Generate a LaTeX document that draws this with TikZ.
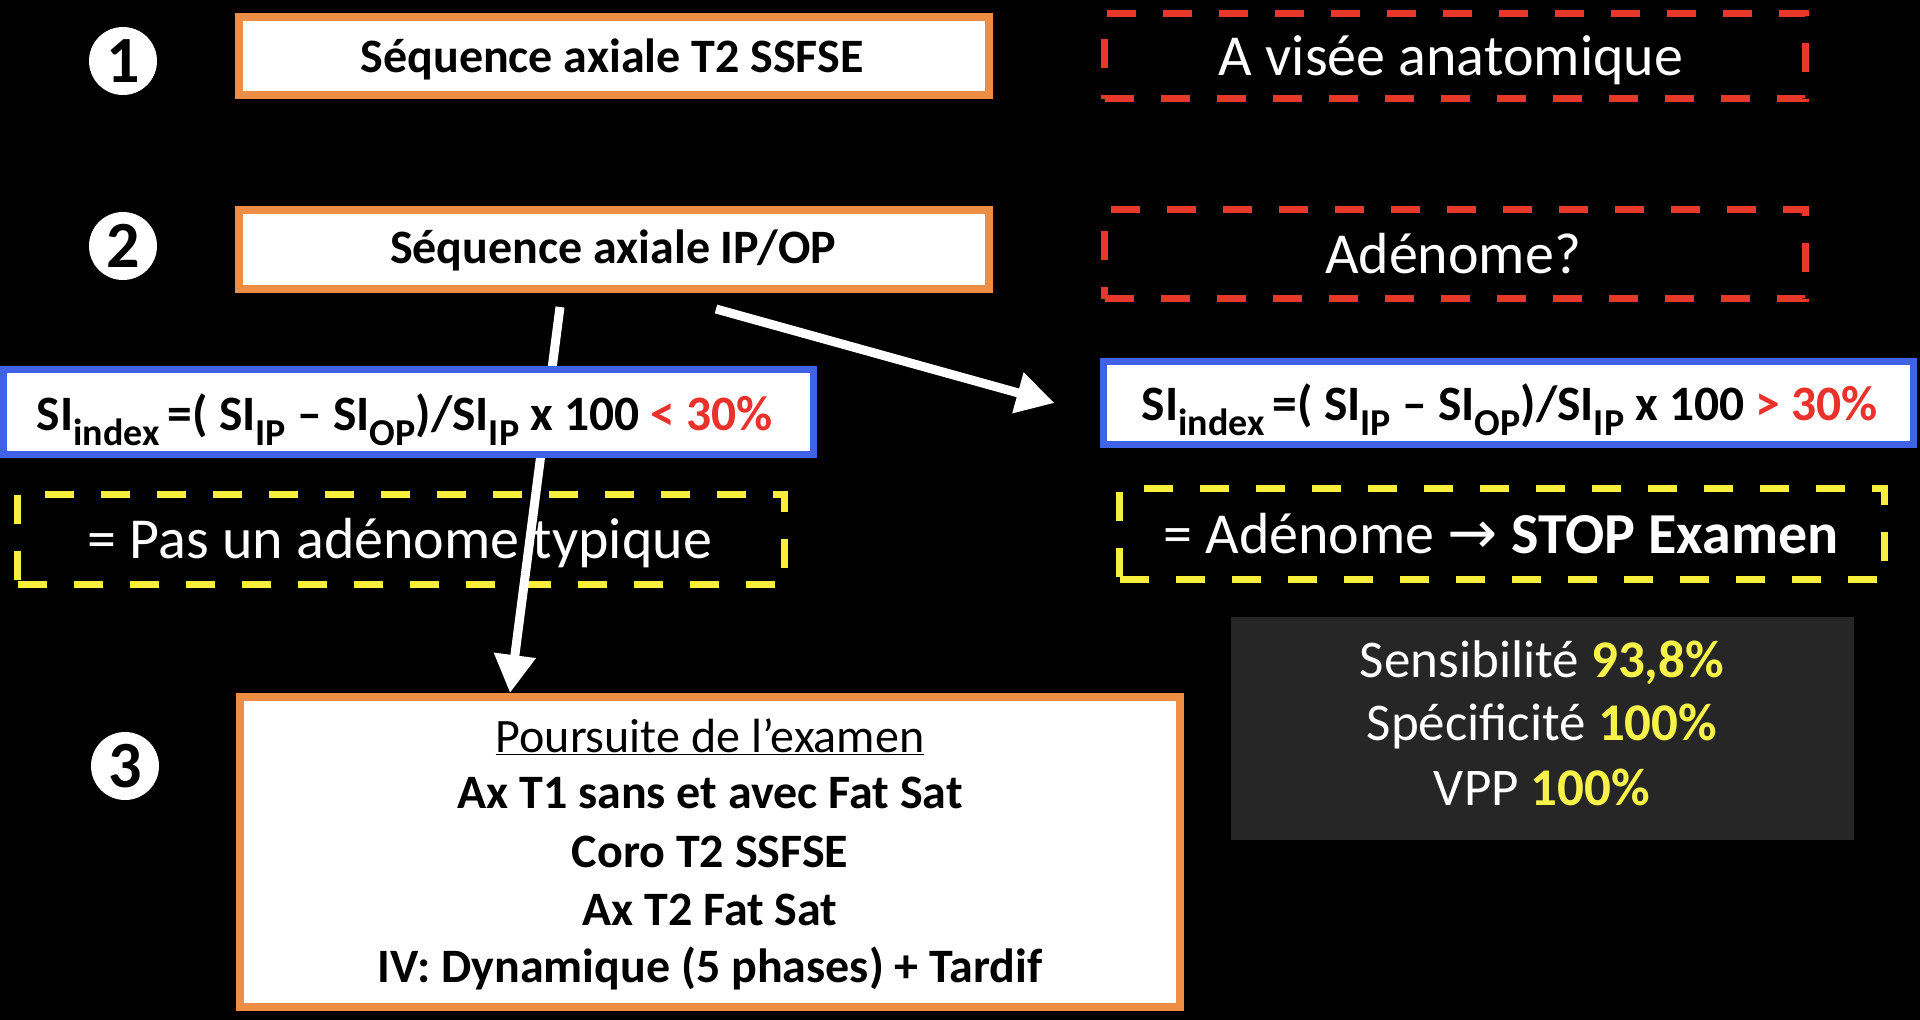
\documentclass[tikz,border=0pt]{standalone}
\usepackage{fontspec}
\setmainfont{Carlito}
\newfontfamily\symfont{DejaVu Sans}
\usetikzlibrary{arrows.meta,calc}

\definecolor{boxorange}{HTML}{F08D45}
\definecolor{boxblue}{HTML}{3F62E6}
\definecolor{dashred}{HTML}{E8382A}
\definecolor{dashyellow}{HTML}{F7EF3C}
\definecolor{redtxt}{HTML}{E8322B}
\definecolor{yellowtxt}{HTML}{F6F24A}
\definecolor{graybg}{HTML}{262626}

% font size in px-like points
\newcommand{\fs}[1]{\fontsize{#1}{#1}\selectfont}
% lowered subscript used in the signal-index formula
\newcommand{\lowsub}[1]{\raisebox{-15pt}{\fs{38}#1}}
\newcommand{\siformula}[1]{\fs{49.5}\bfseries SI\lowsub{index}\,=( SI\lowsub{IP} -- SI\lowsub{OP})/SI\lowsub{IP} x 100 \textcolor{redtxt}{#1~30\%}}

\begin{document}
\begin{tikzpicture}[x=1pt,y=-1pt,
  orangebox/.style={draw=boxorange,line width=8pt,fill=white,inner sep=0pt},
  bluebox/.style={draw=boxblue,line width=7pt,fill=white,inner sep=0pt},
  reddash/.style={draw=dashred,line width=7pt,dash pattern=on 29pt off 27pt,inner sep=0pt},
  yellowdash/.style={draw=dashyellow,line width=7pt,dash pattern=on 29pt off 27pt,inner sep=0pt},
  numdisc/.style={circle,fill=white,minimum size=68pt,inner sep=0pt,text=black,font=\fs{66}\bfseries},
  txt/.style={inner sep=0pt,anchor=base},
  flowarrow/.style={draw=white,line width=9pt,-{Triangle[length=38pt,width=40pt]}}
]
\fill[black] (0,0) rectangle (1920,1020);
\useasboundingbox (0,0) rectangle (1920,1020);

% step numbers
\node[numdisc] (n1) at (123,61) {1};
\node[numdisc] (n2) at (123,246) {2};
\node[numdisc] (n3) at (125,766) {3};

% sequence boxes
\node[orangebox,minimum width=750pt,minimum height=78pt] (box1) at (614,56) {};
\node[txt] (box1t) at (612,72) {\fs{48}\bfseries Séquence axiale T2 SSFSE};

\node[orangebox,minimum width=750pt,minimum height=79pt] (box2) at (614,249.5) {};
\node[txt] (box2t) at (613,263) {\fs{48}\bfseries Séquence axiale IP/OP};

% purpose boxes
\node[reddash,minimum width=701pt,minimum height=85pt] (goalA) at (1455,56) {};
\node[txt,text=white] (goalAt) at (1451,75) {\fs{58}A visée anatomique};

\node[reddash,minimum width=701pt,minimum height=89pt] (goalB) at (1455,254) {};
\node[txt,text=white] (goalBt) at (1453,273) {\fs{58}Adénome?};

% signal index formula (> 30 %)
\node[bluebox,minimum width=810pt,minimum height=83pt] (siR) at (1508,403) {};
\node[txt] (siRt) at (1510,420) {\siformula{>}};

% conclusions
\node[yellowdash,minimum width=767pt,minimum height=90pt] (conL) at (401,539.5) {};
\node[txt,text=white] (conLt) at (400,558) {\fs{58}= Pas un adénome typique};

\node[yellowdash,minimum width=765pt,minimum height=91pt] (conR) at (1502,534) {};
\node[txt,text=white] (conRt) at (1501,553) {\fs{58}= Adénome {\symfont\fs{60}→} \textbf{STOP Examen}};

% performance figures
\node[fill=graybg,minimum width=623pt,minimum height=223pt,inner sep=0pt] (perf) at (1542.5,728.5) {};
\node[txt,text=white] (perf1) at (1542,677) {\fs{53}Sensibilité \textcolor{yellowtxt}{\bfseries 93,8\%}};
\node[txt,text=white] (perf2) at (1542,740) {\fs{53}Spécificité \textcolor{yellowtxt}{\bfseries 100\%}};
\node[txt,text=white] (perf3) at (1542,805) {\fs{53}VPP \textcolor{yellowtxt}{\bfseries 100\%}};

% follow-up protocol
\node[orangebox,minimum width=940pt,minimum height=310pt] (box3) at (710,852) {};
\node[txt] (l1) at (710,752) {\fs{48}\underline{Poursuite de l’examen}};
\node[txt] (l2) at (710,808) {\fs{48}\bfseries Ax T1 sans et avec Fat Sat};
\node[txt] (l3) at (710,867) {\fs{48}\bfseries Coro T2 SSFSE};
\node[txt] (l4) at (710,925) {\fs{48}\bfseries Ax T2 Fat Sat};
\node[txt] (l5) at (710,982) {\fs{48}\bfseries IV: Dynamique (5 phases) + Tardif};

% decision arrows
\draw[flowarrow] ($(box2.south)+(-54,14)$) -- ($(box3.north)+(-200,0)$);
\draw[flowarrow] ($(box2.south)+(102,16)$) -- ($(siR.west)+(-45,0)$);

% signal index formula (< 30 %), laid over the downward arrow
\node[bluebox,minimum width=810pt,minimum height=85pt] (siL) at (408,412) {};
\node[txt] (siLt) at (405,430) {\siformula{<}};
\end{tikzpicture}
\end{document}
